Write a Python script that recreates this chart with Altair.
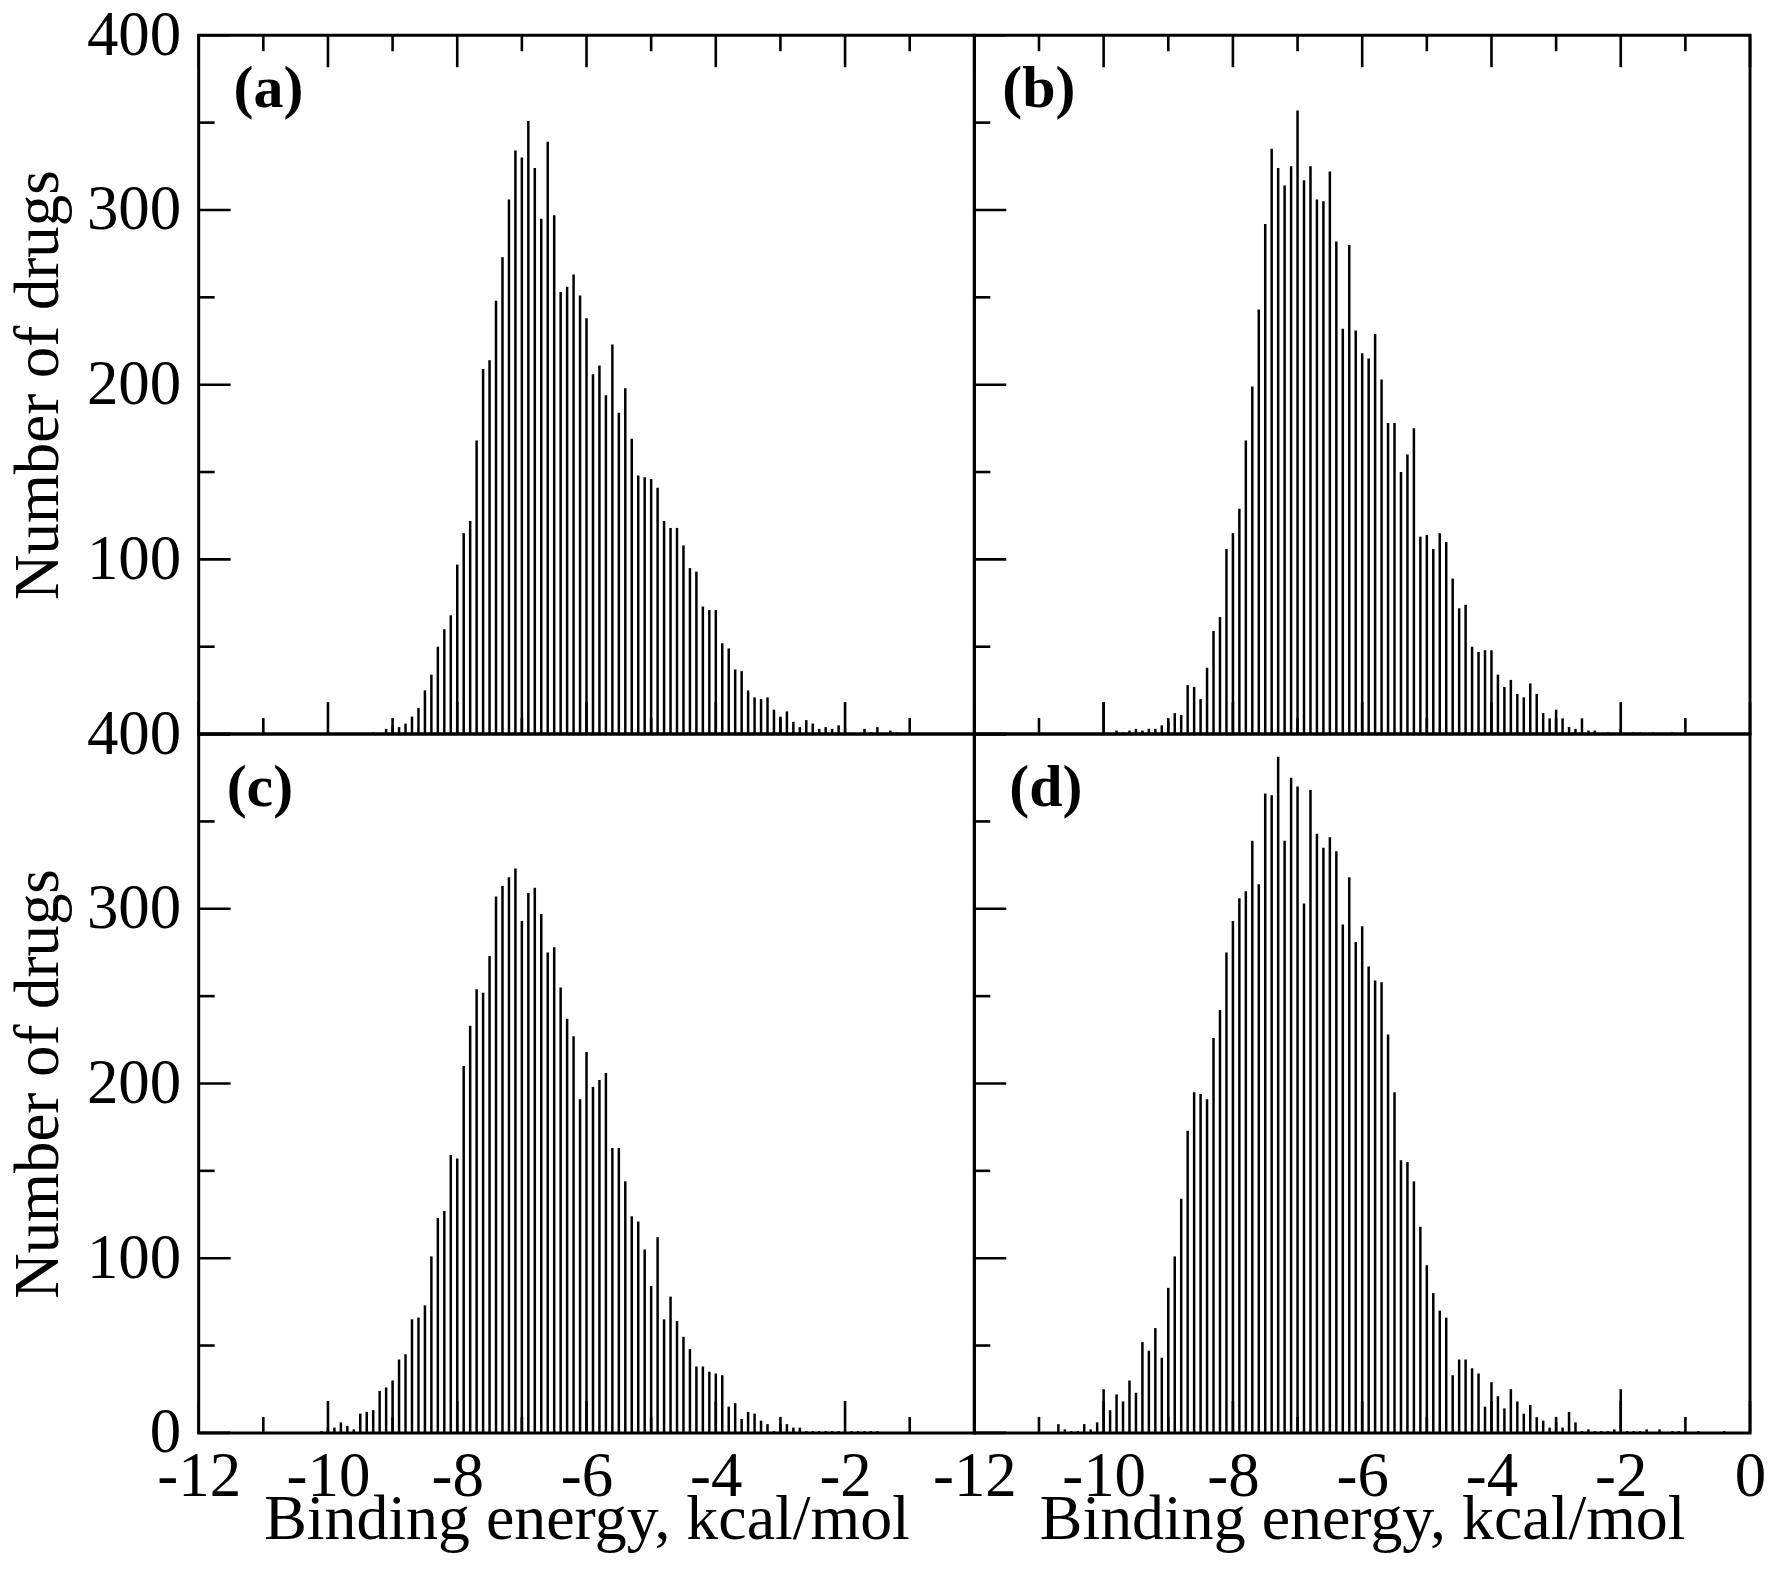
import altair as alt
import pandas as pd

FONT = "Liberation Serif"
BIN = 0.1

# Histogram counts (bin width 0.1 kcal/mol), each list starts at the given energy
A_START = -9.3
A_COUNTS = [1, 0, 3, 5, 4, 6, 10, 15, 25, 34,
            50, 60, 68, 97, 115, 122, 168, 209, 214, 248,
            273, 306, 334, 330, 351, 324, 295, 339, 297, 253,
            256, 263, 251, 238, 206, 211, 194, 223, 184, 198,
            169, 148, 147, 146, 141, 122, 118, 118, 108, 95,
            93, 73, 71, 71, 52, 49, 37, 36, 25, 21,
            20, 21, 14, 10, 13, 7, 4, 8, 6, 3,
            4, 3, 5, 3, 0, 0, 3, 1, 4, 0,
            2, 1]

B_START = -10.0
B_COUNTS = [18, 0, 2, 1, 2, 3, 2, 3, 3, 5,
            7, 12, 11, 28, 27, 20, 38, 59, 67, 106,
            115, 129, 168, 199, 243, 292, 335, 324, 314, 325,
            357, 317, 325, 306, 305, 322, 282, 232, 280, 231,
            218, 215, 229, 203, 178, 178, 150, 160, 175, 113,
            114, 106, 115, 110, 89, 72, 74, 50, 47, 48,
            48, 34, 27, 31, 23, 21, 29, 23, 12, 9,
            14, 9, 4, 3, 9, 2, 2, 0, 1, 0,
            3, 0, 1, 1, 0, 1, 0, 0, 1]

C_START = -10.1
C_COUNTS = [1, 3, 3, 6, 4, 2, 11, 12, 13, 24,
            26, 30, 42, 45, 65, 66, 73, 101, 123, 127,
            159, 157, 210, 233, 254, 252, 273, 307, 313, 318,
            323, 293, 309, 312, 297, 275, 278, 255, 237, 227,
            191, 218, 198, 202, 206, 163, 163, 144, 124, 121,
            105, 84, 112, 65, 78, 64, 55, 48, 38, 38,
            35, 34, 33, 15, 17, 8, 12, 11, 7, 5,
            1, 5, 5, 3, 3, 1, 1, 1, 1, 1,
            1, 1, 1, 1, 1, 1, 1]

D_START = -10.7
D_COUNTS = [5, 2, 1, 1, 5, 2, 6, 25, 13, 22,
            18, 30, 23, 52, 47, 60, 43, 83, 101, 134,
            173, 195, 194, 191, 226, 242, 275, 293, 306, 310,
            339, 314, 366, 365, 387, 339, 375, 370, 303, 368,
            343, 335, 341, 333, 291, 318, 281, 290, 267, 259,
            258, 228, 195, 156, 155, 144, 118, 96, 80, 70,
            66, 33, 42, 42, 37, 34, 15, 29, 21, 14,
            25, 18, 11, 16, 9, 7, 3, 6, 3, 12,
            6, 1, 2, 1, 1, 1, 2, 25, 1, 1,
            1, 2, 0, 2, 0, 1, 1, 0, 0, 1, 0, 0, 0, 1]

X_MAJOR = [-12, -10, -8, -6, -4, -2, 0]
X_MINOR = [-11, -9, -7, -5, -3, -1]
Y_MAJOR = [0, 100, 200, 300, 400]
Y_MINOR = [50, 150, 250, 350]
X_LABELS_LEFT = [-12, -10, -8, -6, -4, -2]
X_LABELS_RIGHT = [-12, -10, -8, -6, -4, -2, 0]
Y_LABELS_TOP = [100, 200, 300, 400]
Y_LABELS_BOTTOM = [0, 100, 200, 300, 400]

W, H = 777, 700
MAJ, MIN = 32, 16
FS = 63


def frame(start, counts):
    df = pd.DataFrame({
        "energy": [round(start + BIN * i, 1) for i in range(len(counts))],
        "count": counts,
    })
    return df[df["count"] > 0]


def panel(start, counts, tag, tag_x, x_labels, y_labels, top_ticks):
    xs = alt.Scale(domain=[-12, 0], nice=False, zero=False)
    ys = alt.Scale(domain=[0, 400], nice=False, zero=True)

    if x_labels is not None:
        xaxis = alt.Axis(
            values=x_labels, ticks=False, domain=False, grid=False,
            labelExpr="datum.value < 0 ? '-' + abs(datum.value) : '' + datum.value",
            labelFont=FONT, labelFontSize=FS, labelColor="black", labelPadding=13,
            labelFlush=False, labelOverlap=False,
            title="Binding energy, kcal/mol", titleFont=FONT, titleFontSize=64,
            titleFontWeight="normal", titleColor="black",
            titleBaseline="alphabetic", titleY=106,
        )
    else:
        xaxis = None

    if y_labels is not None:
        yaxis = alt.Axis(
            values=y_labels, ticks=False, domain=False, grid=False, format="d",
            labelFont=FONT, labelFontSize=FS, labelColor="black", labelPadding=18,
            labelFlush=False, labelOverlap=False,
            title="Number of drugs", titleFont=FONT, titleFontSize=FS,
            titleFontWeight="normal", titleColor="black",
            titleAngle=270, titleBaseline="middle", titleX=-160, titleY=H / 2,
        )
    else:
        yaxis = None

    bars = alt.Chart(frame(start, counts)).mark_rule(
        color="black", strokeWidth=2.5
    ).encode(
        x=alt.X("energy:Q", scale=xs, axis=xaxis),
        y=alt.Y("count:Q", scale=ys, axis=yaxis),
        y2=alt.datum(0),
    )

    layers = [bars]
    xmaj = pd.DataFrame({"energy": X_MAJOR})
    xmin = pd.DataFrame({"energy": X_MINOR})
    ymaj = pd.DataFrame({"count": Y_MAJOR})
    ymin = pd.DataFrame({"count": Y_MINOR})

    def xtick(df, y0, y1):
        return alt.Chart(df).mark_rule(color="black", strokeWidth=2.6).encode(
            x=alt.X("energy:Q", scale=xs, axis=xaxis),
            y=alt.value(y0), y2=alt.value(y1),
        )

    def ytick(df, length):
        return alt.Chart(df).mark_rule(color="black", strokeWidth=2.6).encode(
            y=alt.Y("count:Q", scale=ys, axis=yaxis),
            x=alt.value(0), x2=alt.value(length),
        )

    layers += [xtick(xmaj, H, H - MAJ), xtick(xmin, H, H - MIN)]
    if top_ticks:
        layers += [xtick(xmaj, 0, MAJ), xtick(xmin, 0, MIN)]
    layers += [ytick(ymaj, MAJ), ytick(ymin, MIN)]

    label = alt.Chart(pd.DataFrame({"t": [tag]})).mark_text(
        font=FONT, fontSize=60, fontWeight="bold", align="left",
        baseline="alphabetic", color="black",
    ).encode(text="t:N", x=alt.value(tag_x), y=alt.value(72))
    layers.append(label)

    return alt.layer(*layers).properties(width=W, height=H)


pa = panel(A_START, A_COUNTS, "(a)", 35, None, Y_LABELS_TOP, True)
pb = panel(B_START, B_COUNTS, "(b)", 28, None, None, True)
pc = panel(C_START, C_COUNTS, "(c)", 28, X_LABELS_LEFT, Y_LABELS_BOTTOM, False)
pd_ = panel(D_START, D_COUNTS, "(d)", 35, X_LABELS_RIGHT, None, False)

chart = alt.concat(pa, pb, pc, pd_, columns=2, spacing=0, bounds="flush").configure_view(
    stroke="black", strokeWidth=3
).properties(
    padding={"left": -2, "top": -7, "right": -3, "bottom": 0},
    background="white",
)

chart.save("out.html", embed_options={"renderer": "svg", "actions": False})
